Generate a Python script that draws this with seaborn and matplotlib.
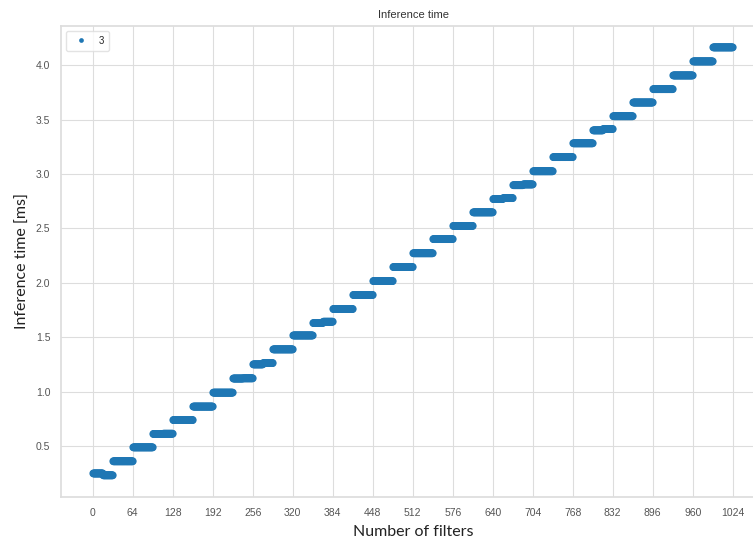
import numpy as np
import pandas as pd
import matplotlib
matplotlib.use("Agg")
import matplotlib.pyplot as plt
import seaborn as sns

# === Data ===
# inference time [ms] per group of 16 filters (two halves of each 32-filter step)
step_first_half = [0.247, 0.359, 0.487, 0.610, 0.738, 0.862, 0.990, 1.120,
                   1.250, 1.388, 1.516, 1.630, 1.759, 1.888, 2.016, 2.145,
                   2.272, 2.402, 2.523, 2.648, 2.770, 2.898, 3.026, 3.156,
                   3.283, 3.402, 3.532, 3.658, 3.781, 3.907, 4.036, 4.165]
step_second_half = [0.230, 0.359, 0.487, 0.612, 0.738, 0.862, 0.990, 1.122,
                    1.262, 1.388, 1.516, 1.642, 1.759, 1.888, 2.016, 2.145,
                    2.272, 2.402, 2.523, 2.648, 2.779, 2.905, 3.026, 3.156,
                    3.283, 3.414, 3.532, 3.658, 3.781, 3.907, 4.036, 4.165]
num_filters = np.arange(1, 1025)
x_ticks = list(range(0, 1025, 64))
kernel_label = "3"

levels = np.ravel(np.column_stack([step_first_half, step_second_half]))
df = pd.DataFrame({
    "filters": num_filters,
    "time": np.repeat(levels, 16),
    "kernel": kernel_label,
})

# === Plot ===
sns.set_theme(style="whitegrid")
plt.rcParams["font.family"] = ["Liberation Sans", "DejaVu Sans"]

fig = plt.figure(figsize=(7.53, 5.40), dpi=100)
ax = fig.add_axes([0.0815, 0.0802, 0.934, 0.8717])

sns.scatterplot(data=df, x="filters", y="time", hue="kernel",
                palette=["#1f77b4"], s=32, linewidth=0, ax=ax)

ax.set_xticks(x_ticks)
ax.tick_params(axis="both", labelsize=7.5, colors="#555555", pad=2)
ax.set_title("Inference time", fontsize=8, color="#333333", pad=6)
ax.set_xlabel("Number of filters", fontsize=11.5, family=["Lato", "DejaVu Sans"],
              color="#222222", labelpad=5)
ax.set_ylabel("Inference time [ms]", fontsize=11.5, family=["Lato", "DejaVu Sans"],
              color="#222222", labelpad=4)
for sp in ax.spines.values():
    sp.set_color("#dddddd")
ax.grid(color="#dddddd", linewidth=0.8)

leg = ax.legend(loc="upper left", fontsize=7, markerscale=0.6,
                handletextpad=0.8, borderpad=0.5, frameon=True)
leg.get_frame().set_edgecolor("#dddddd")

fig.savefig("out.png", dpi=100)
